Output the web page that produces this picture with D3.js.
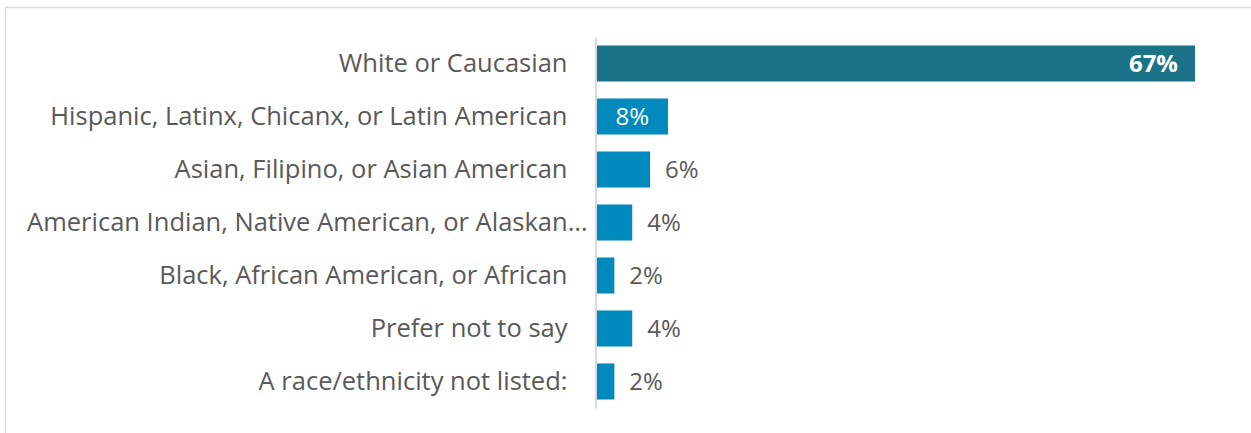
<!DOCTYPE html>
<html>
<head>
<meta charset="utf-8">
<script src="https://cdn.jsdelivr.net/npm/d3@7"></script>
<style>
  html, body { margin: 0; padding: 0; background: #fff; }
  svg { display: block; }
</style>
</head>
<body>
<svg id="chart" width="1251" height="433"></svg>
<script>
// Race / ethnicity breakdown (percent of respondents)
const categories = [
  "White or Caucasian",
  "Hispanic, Latinx, Chicanx, or Latin American",
  "Asian, Filipino, or Asian American",
  "American Indian, Native American, or Alaskan…",
  "Black, African American, or African",
  "Prefer not to say",
  "A race/ethnicity not listed:"
];
const values = [67, 8, 6, 4, 2, 4, 2];
const valueLabels = ["67%", "8%", "6%", "4%", "2%", "4%", "2%"];

const svg = d3.select("#chart");
const W = 1251, H = 433;
const font = "'Open Sans', 'Liberation Sans', sans-serif";

// outer frame (top and left edges visible)
svg.append("path")
  .attr("d", `M5.5,${H} V7.5 H${W}`)
  .attr("fill", "none")
  .attr("stroke", "#d9d9d9")
  .attr("stroke-width", 1.5);

const x0 = 596.5;
const x = d3.scaleLinear().domain([0, 67]).range([x0, 1195]);
const y = d3.scaleBand().domain(categories).range([37, 408]).paddingInner(0.32).paddingOuter(0.16);

const rowData = categories.map((c, i) => ({ c, v: values[i], label: valueLabels[i], i }));

// bars
svg.append("g").selectAll("rect")
  .data(rowData)
  .join("rect")
  .attr("x", x0)
  .attr("y", d => y(d.c))
  .attr("width", d => x(d.v) - x0)
  .attr("height", y.bandwidth())
  .attr("fill", d => d.i === 0 ? "#1b7389" : "#0089bd");

// category axis
const axis = svg.append("g")
  .attr("transform", `translate(${x0 - 1},0)`)
  .call(d3.axisLeft(y).tickSize(0).tickPadding(28));
axis.select(".domain").attr("stroke", "#d9d9d9").attr("stroke-width", 2);
axis.selectAll("text")
  .attr("font-family", font)
  .attr("font-size", 25.5)
  .attr("fill", "#595959")
  // the truncated label runs past the common right edge
  .attr("x", d => d.endsWith("…") ? -8 : -28);

// value labels
svg.append("g").selectAll("text")
  .data(rowData)
  .join("text")
  .attr("x", d => {
    if (d.i === 0) return x(d.v) - 17;
    if (d.i === 1) return (x0 + x(d.v)) / 2;
    return x(d.v) + 15;
  })
  .attr("y", d => y(d.c) + y.bandwidth() / 2)
  .attr("dy", "0.35em")
  .attr("text-anchor", d => d.i === 0 ? "end" : (d.i === 1 ? "middle" : "start"))
  .attr("font-family", font)
  .attr("font-size", 24)
  .attr("font-weight", d => d.i === 0 ? 700 : 400)
  .attr("fill", d => d.i <= 1 ? "#ffffff" : "#595959")
  .text(d => d.label);
</script>
</body>
</html>
